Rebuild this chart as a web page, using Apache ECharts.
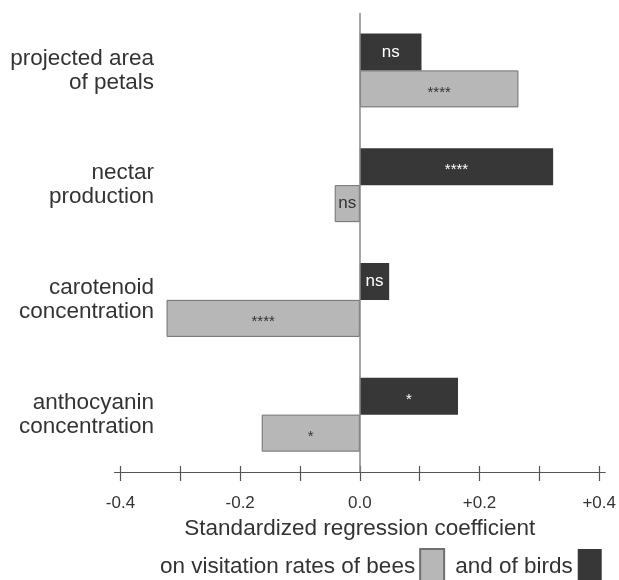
<!DOCTYPE html>
<html>
<head>
<meta charset="utf-8">
<script src="https://cdn.jsdelivr.net/npm/echarts@6/dist/echarts.min.js"></script>
<style>
html,body{margin:0;padding:0;background:#fff;overflow:hidden;}
#chart{width:619px;height:580px;}
</style>
</head>
<body>
<div id="chart"></div>
<script>
// Data (top to bottom)
const categories = ['projected area\nof petals', 'nectar\nproduction', 'carotenoid\nconcentration', 'anthocyanin\nconcentration'];
const birdValues = [0.103, 0.323, 0.049, 0.164];
const beeValues = [0.265, -0.042, -0.323, -0.164];
const birdSig = ['ns', '****', 'ns', '*'];
const beeSig = ['****', 'ns', '****', '*'];
const tickValues = [-0.4, -0.3, -0.2, -0.1, 0, 0.1, 0.2, 0.3, 0.4];
const tickLabelValues = [-0.4, -0.2, 0, 0.2, 0.4];
const beeName = 'on visitation rates of bees';
const birdName = 'and of birds';

const FONT = "'Liberation Sans', Arial, Helvetica, sans-serif";
const TEXT = '#333';

function sigLabel(sigs, color) {
  return {
    show: true,
    position: 'inside',
    formatter: p => {
      const s = sigs[p.dataIndex];
      return s === 'ns' ? '{ns|ns}' : '{st|' + s + '}';
    },
    rich: {
      ns: { fontSize: 17, color: color, fontFamily: FONT },
      st: { fontSize: 15, color: color, fontFamily: FONT, padding: [7, 0, 0, 0] }
    }
  };
}

const chart = echarts.init(document.getElementById('chart'));
chart.setOption({
  animation: false,
  backgroundColor: '#fff',
  textStyle: { fontFamily: FONT },
  grid: { left: 114.5, right: 7, top: 13, bottom: 108, containLabel: false },
  legend: {
    data: [beeName, birdName],
    left: 155,
    top: 543,
    align: 'right',
    icon: 'rect',
    itemWidth: 24,
    itemHeight: 36,
    itemGap: 10,
    selectedMode: false,
    textStyle: { fontSize: 22.5, color: TEXT, fontFamily: FONT }
  },
  xAxis: [{
    type: 'value',
    min: -0.41,
    max: 0.41,
    position: 'bottom',
    splitLine: { show: false },
    axisLine: { show: true, onZero: false, lineStyle: { color: '#555', width: 1.2 } },
    axisTick: { show: true, inside: false, length: 9, customValues: tickValues, lineStyle: { color: '#555', width: 1.2 } },
    axisLabel: {
      customValues: tickLabelValues,
      margin: 23,
      fontSize: 17,
      color: TEXT,
      fontFamily: FONT,
      formatter: v => (v > 0 ? '+' : '') + v.toFixed(1)
    },
    name: 'Standardized regression coefficient',
    nameLocation: 'middle',
    nameGap: 45,
    nameTextStyle: { fontSize: 22.5, color: TEXT, fontFamily: FONT }
  }, {
    type: 'value',
    min: -0.41,
    max: 0.41,
    position: 'bottom',
    splitLine: { show: false },
    axisLine: { show: false },
    axisTick: { show: true, inside: true, length: 6, customValues: tickValues, lineStyle: { color: '#555', width: 1.2 } },
    axisLabel: { show: false }
  }],
  yAxis: {
    type: 'category',
    data: categories,
    inverse: true,
    axisLine: { show: false },
    axisTick: { show: false },
    splitLine: { show: false },
    axisLabel: {
      margin: -39.5,
      align: 'right',
      fontSize: 22.5,
      lineHeight: 24,
      color: TEXT,
      fontFamily: FONT
    }
  },
  series: [{
    name: birdName,
    type: 'bar',
    data: birdValues,
    barWidth: 37,
    barGap: '0%',
    itemStyle: { color: '#373737' },
    label: sigLabel(birdSig, '#fff'),
    markLine: {
      silent: true,
      symbol: ['none', 'none'],
      label: { show: false },
      lineStyle: { color: '#888', width: 1.5, type: 'solid' },
      data: [{ xAxis: 0 }]
    }
  }, {
    name: beeName,
    type: 'bar',
    data: beeValues,
    barWidth: 37,
    barGap: '0%',
    itemStyle: { color: '#b7b7b7', borderColor: '#6f6f6f', borderWidth: 1 },
    label: sigLabel(beeSig, '#333')
  }]
});
</script>
</body>
</html>
